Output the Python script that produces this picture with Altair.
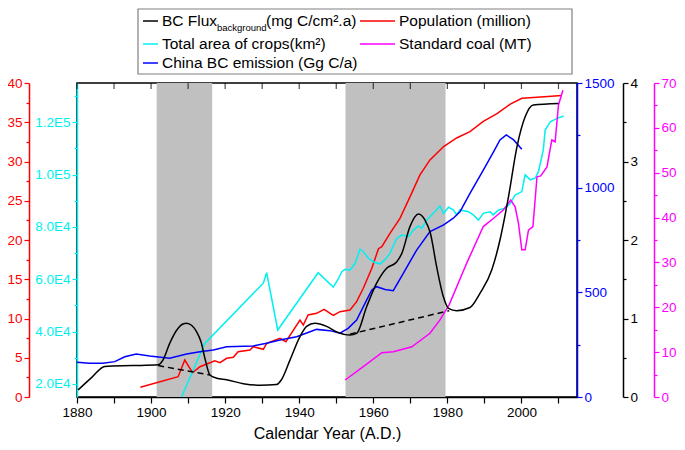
import altair as alt
import pandas as pd

FONT = "Liberation Sans"

# ---------------- data ----------------
black_year = [1880.3, 1884, 1887.5, 1895, 1901.9, 1903.2, 1905, 1906.9, 1908.6, 1909.6, 1911, 1912.3,
              1913.5, 1914.6, 1915.9, 1917.7, 1920.4, 1924.9, 1929.4, 1933.9, 1935.2, 1937.5, 1940.2,
              1942, 1944.2, 1947.4, 1950.1, 1953.7, 1955.5, 1958.2, 1960.9, 1963.6, 1966.3, 1967.7,
              1969.9, 1972.2, 1974, 1975.4, 1977.1, 1978.9, 1980.3, 1982.5, 1986.1, 1988.8, 1992,
              1994.2, 1996.5, 1998.8, 2001, 2003.2, 2010]
black_val = [0.09, 0.25, 0.39, 0.40, 0.41, 0.47, 0.68, 0.85, 0.93, 0.94, 0.91, 0.83,
             0.70, 0.48, 0.28, 0.24, 0.22, 0.17, 0.15, 0.16, 0.22, 0.47, 0.77,
             0.90, 0.94, 0.90, 0.83, 0.79, 0.81, 1.15, 1.45, 1.64, 1.72, 1.83,
             2.17, 2.33, 2.25, 2.09, 1.66, 1.28, 1.13, 1.10, 1.14, 1.32, 1.62,
             2.00, 2.55, 3.19, 3.57, 3.72, 3.74]

dash_seg = ["a", "a", "b", "b"]
dash_year = [1901.9, 1916.0, 1953.7, 1980.5]
dash_val = [0.40, 0.28, 0.80, 1.10]

red_year = [1897.1, 1907.3, 1909.1, 1911.2, 1913.2, 1915.9, 1917.2, 1918.6, 1920.4, 1922.2, 1923.5,
            1926.7, 1927.6, 1930.3, 1931.2, 1934.8, 1936.4, 1940.2, 1941.1, 1942.4, 1944.7, 1946.7,
            1949.2, 1951, 1953.7, 1955.5, 1957.3, 1959.6, 1961.4, 1962.3, 1964.5, 1967.2, 1969.9,
            1972.6, 1975.3, 1979, 1982.5, 1986.1, 1989.7, 1993.4, 1997, 2000.1, 2004.2, 2010.9]
red_val = [1.24, 2.59, 4.71, 3.10, 3.86, 4.37, 4.62, 4.37, 4.93, 5.06, 5.77,
           5.99, 6.41, 6.08, 6.84, 7.48, 7.05, 9.8, 9.17, 10.45, 10.66, 11.17,
           10.4, 10.87, 11.08, 12.14, 13.85, 16.4, 18.9, 19.15, 20.85, 22.76, 25.5,
           28.3, 30.2, 31.9, 33.0, 33.8, 35.1, 36.1, 37.3, 38.05, 38.2, 38.4]

blue_year = [1880, 1883.4, 1887, 1890.2, 1892.9, 1896, 1899.6, 1905, 1909.6, 1913.2, 1916.8, 1920.4,
             1927.6, 1931.2, 1934.8, 1939.3, 1942.9, 1944.7, 1948.3, 1951, 1953.2, 1955.5, 1958.2,
             1959.6, 1960.9, 1963.2, 1965.4, 1968.1, 1971.7, 1975.3, 1979, 1981.6, 1983.4, 1986.1,
             1989.7, 1992.5, 1994.2, 1995.9, 1997.9, 2000.1]
blue_val = [166, 161, 161, 169, 192, 205, 196, 185, 205, 216, 225, 240,
            244, 257, 272, 288, 312, 323, 317, 305, 328, 368, 463,
            511, 527, 514, 508, 591, 702, 790, 822, 854, 885, 973,
            1084, 1172, 1228, 1252, 1228, 1183]

cyan_year = [1908.2, 1914.5, 1930.3, 1931.2, 1934.2, 1945.1, 1949.2, 1950.5, 1951.5, 1952.4, 1953.7,
             1955.1, 1956.4, 1957.3, 1958.7, 1960, 1961.8, 1963.2, 1964.5, 1966.3, 1967.7, 1969.5,
             1970.8, 1972.2, 1973.1, 1974.4, 1976.2, 1978, 1979, 1980.3, 1981.6, 1982.5, 1983.4,
             1985.7, 1987, 1988.4, 1989.7, 1991.5, 1992.4, 1993.8, 1995.6, 1997, 1998.3, 2000.1,
             2001, 2002.4, 2003.7, 2004.6, 2005.9, 2006.4, 2007.8, 2009.6, 2011.4]
cyan_val = [15000, 35500, 58500, 62500, 40600, 62500, 57000, 60000, 62900, 63800, 63500,
            66100, 71500, 70500, 68000, 66700, 65800, 67600, 69900, 75600, 76900, 76300,
            78800, 80400, 79500, 82600, 85200, 88000, 85200, 87500, 86500, 84600, 86500,
            85800, 84600, 82600, 85200, 85800, 84600, 86500, 87100, 89000, 92200, 93500,
            99900, 98000, 98600, 101100, 109400, 117000, 120200, 121500, 122400]

mag_year = [1952.4, 1957.3, 1962.3, 1965.4, 1970.4, 1975.3, 1978, 1980.5, 1985.2, 1989.7, 1992.4,
            1995.1, 1997.1, 1998.3, 1999.2, 2000.1, 2001, 2001.9, 2003.1, 2004.2, 2005.2, 2006.9,
            2008.2, 2009.1, 2010, 2011.2]
mag_val = [3.79, 6.75, 9.88, 10.1, 11.2, 14.2, 17.2, 20.6, 29.8, 38.0, 39.8,
           41.7, 43.9, 42.4, 38.7, 32.8, 32.8, 37.2, 38.0, 49.1, 49.3, 51.3,
           57.3, 56.9, 65.1, 68.4]

shade_start = [1901.5, 1952.5]
shade_end = [1916.5, 1979.5]

x_ticks = list(range(1880, 2011, 10))
red_ticks = [i * 2.5 for i in range(17)]
cyan_ticks = list(range(20000, 130001, 10000))
blue_ticks = list(range(0, 1501, 250))
black_ticks = [i * 0.5 for i in range(9)]
mag_ticks = list(range(0, 71, 5))

legend_labels = ["BC Flux", "background", "(mg C/cm\u00b2.a)", "Population (million)",
                 "Total area of crops(km\u00b2)", "Standard coal (MT)", "China BC emission (Gg C/a)"]

# ---------------- colours ----------------
C_BLACK, C_RED, C_CYAN, C_BLUE, C_MAG = "#000000", "#FF0000", "#00F0F0", "#0000FF", "#FF00FF"

x_scale = alt.Scale(domain=[1880, 2015], nice=False, zero=False)
x_axis = alt.Axis(title="Calendar Year (A.D.)", values=x_ticks, format="d",
                  labelExpr="datum.value % 20 === 0 ? datum.label : ''",
                  grid=False, tickSize=6, tickColor="black", domainColor="black",
                  labelColor="black", labelFontSize=13.5, titleFontSize=16,
                  titleFontWeight="normal", titleColor="black", labelPadding=2, titlePadding=7,
                  labelFlush=False, labelOverlap=False, domainWidth=1.5, tickWidth=1.2)


def X(field):
    return alt.X(f"{field}:Q", scale=x_scale, axis=x_axis)


def yaxis(color, orient, offset, values, major, label_expr=None):
    kw = dict(orient=orient, offset=offset, values=values, title=None, grid=False,
              domainColor=color, tickColor=color, labelColor=color, labelFontSize=13.5,
              labelPadding=2, labelFlush=False, labelOverlap=False, domainWidth=1.5,
              tickWidth=1.2,
              tickSize={"condition": {"test": f"datum.value % {major} === 0", "value": 5}, "value": 3},
              labelExpr=label_expr or f"datum.value % {major} === 0 ? format(datum.value, 'd') : ''")
    return alt.Axis(**kw)


shade_df = pd.DataFrame({"start": shade_start, "end": shade_end})
black_df = pd.DataFrame({"year": black_year, "v": black_val})
dash_df = pd.DataFrame({"year": dash_year, "v": dash_val, "seg": dash_seg})
red_df = pd.DataFrame({"year": red_year, "v": red_val})
blue_df = pd.DataFrame({"year": blue_year, "v": blue_val})
cyan_df = pd.DataFrame({"year": cyan_year, "v": cyan_val})
mag_df = pd.DataFrame({"year": mag_year, "v": mag_val})
tick_df = pd.DataFrame({"t": x_ticks})
one = pd.DataFrame({"a": [0]})

shade = alt.Chart(shade_df).mark_rect(color="#C0C0C0").encode(x=X("start"), x2="end")

top_ticks = alt.Chart(tick_df).mark_tick(orient="vertical", color="black", size=6,
                                          thickness=1.2).encode(x=X("t"), y=alt.value(3))

red = alt.Chart(red_df).mark_line(color=C_RED, strokeWidth=1.5).encode(
    x=X("year"),
    y=alt.Y("v:Q", scale=alt.Scale(domain=[0, 40], nice=False),
            axis=yaxis(C_RED, "left", 48, red_ticks, 5)))

cyan_expr = "datum.value % 20000 === 0 ? replace(format(datum.value, '.1e'), 'e+', 'E') : ''"
cyan = alt.Chart(cyan_df).mark_line(color=C_CYAN, strokeWidth=1.5).encode(
    x=X("year"),
    y=alt.Y("v:Q", scale=alt.Scale(domain=[15000, 135000], nice=False, zero=False),
            axis=yaxis(C_CYAN, "left", 0, cyan_ticks, 20000, cyan_expr)))

blue = alt.Chart(blue_df).mark_line(color=C_BLUE, strokeWidth=1.5).encode(
    x=X("year"),
    y=alt.Y("v:Q", scale=alt.Scale(domain=[0, 1500], nice=False),
            axis=yaxis(C_BLUE, "right", 0, blue_ticks, 500)))

black = alt.Chart(black_df).mark_line(color=C_BLACK, strokeWidth=1.5, interpolate="monotone").encode(
    x=X("year"),
    y=alt.Y("v:Q", scale=alt.Scale(domain=[0, 4], nice=False),
            axis=yaxis(C_BLACK, "right", 46, black_ticks, 1)))

dashed = alt.Chart(dash_df).mark_line(color=C_BLACK, strokeWidth=1.5, strokeDash=[6, 4]).encode(
    x=X("year"),
    y=alt.Y("v:Q", scale=alt.Scale(domain=[0, 4], nice=False), axis=None),
    detail="seg:N")

mag = alt.Chart(mag_df).mark_line(color=C_MAG, strokeWidth=1.5).encode(
    x=X("year"),
    y=alt.Y("v:Q", scale=alt.Scale(domain=[0, 70], nice=False),
            axis=yaxis(C_MAG, "right", 77, mag_ticks, 10)))

# ---------------- legend (drawn above the plot) ----------------
leg = []
leg.append(alt.Chart(one).mark_rect(fill="white", stroke="#808080", strokeWidth=1.2).encode(
    x=alt.value(61), x2=alt.value(495), y=alt.value(-74), y2=alt.value(-9)))


def sample(color, x1, x2, y):
    return alt.Chart(one).mark_rule(color=color, strokeWidth=1.5).encode(
        x=alt.value(x1), x2=alt.value(x2), y=alt.value(y))


def label(text, x, y, size=15.5):
    return alt.Chart(one).mark_text(text=text, align="left", baseline="middle", fontSize=size,
                                    font=FONT, color="black").encode(x=alt.value(x), y=alt.value(y))


R1, R2, R3 = -62, -39, -20
leg += [sample(C_BLACK, 66, 81, R1), label(legend_labels[0], 85, R1),
        label(legend_labels[1], 140, R1 + 7, 9.5), label(legend_labels[2], 189, R1),
        sample(C_RED, 283, 318, R1), label(legend_labels[3], 322, R1),
        sample(C_CYAN, 66, 81, R2), label(legend_labels[4], 85, R2),
        sample(C_MAG, 283, 318, R2), label(legend_labels[5], 322, R2),
        sample(C_BLUE, 66, 81, R3), label(legend_labels[6], 85, R3)]

chart = alt.layer(shade, top_ticks, red, cyan, blue, mag, black, dashed, *leg).resolve_scale(
    y="independent"
).properties(
    width=500, height=314,
    autosize=alt.AutoSizeParams(type="none"),
    padding={"left": 69, "top": 75, "right": 100, "bottom": 45},
).configure(font=FONT).configure_view(stroke="black", strokeWidth=1.5).configure_axis(
    labelFont=FONT, titleFont=FONT)

chart.save("out.html", embed_options={"renderer": "svg", "actions": False})
